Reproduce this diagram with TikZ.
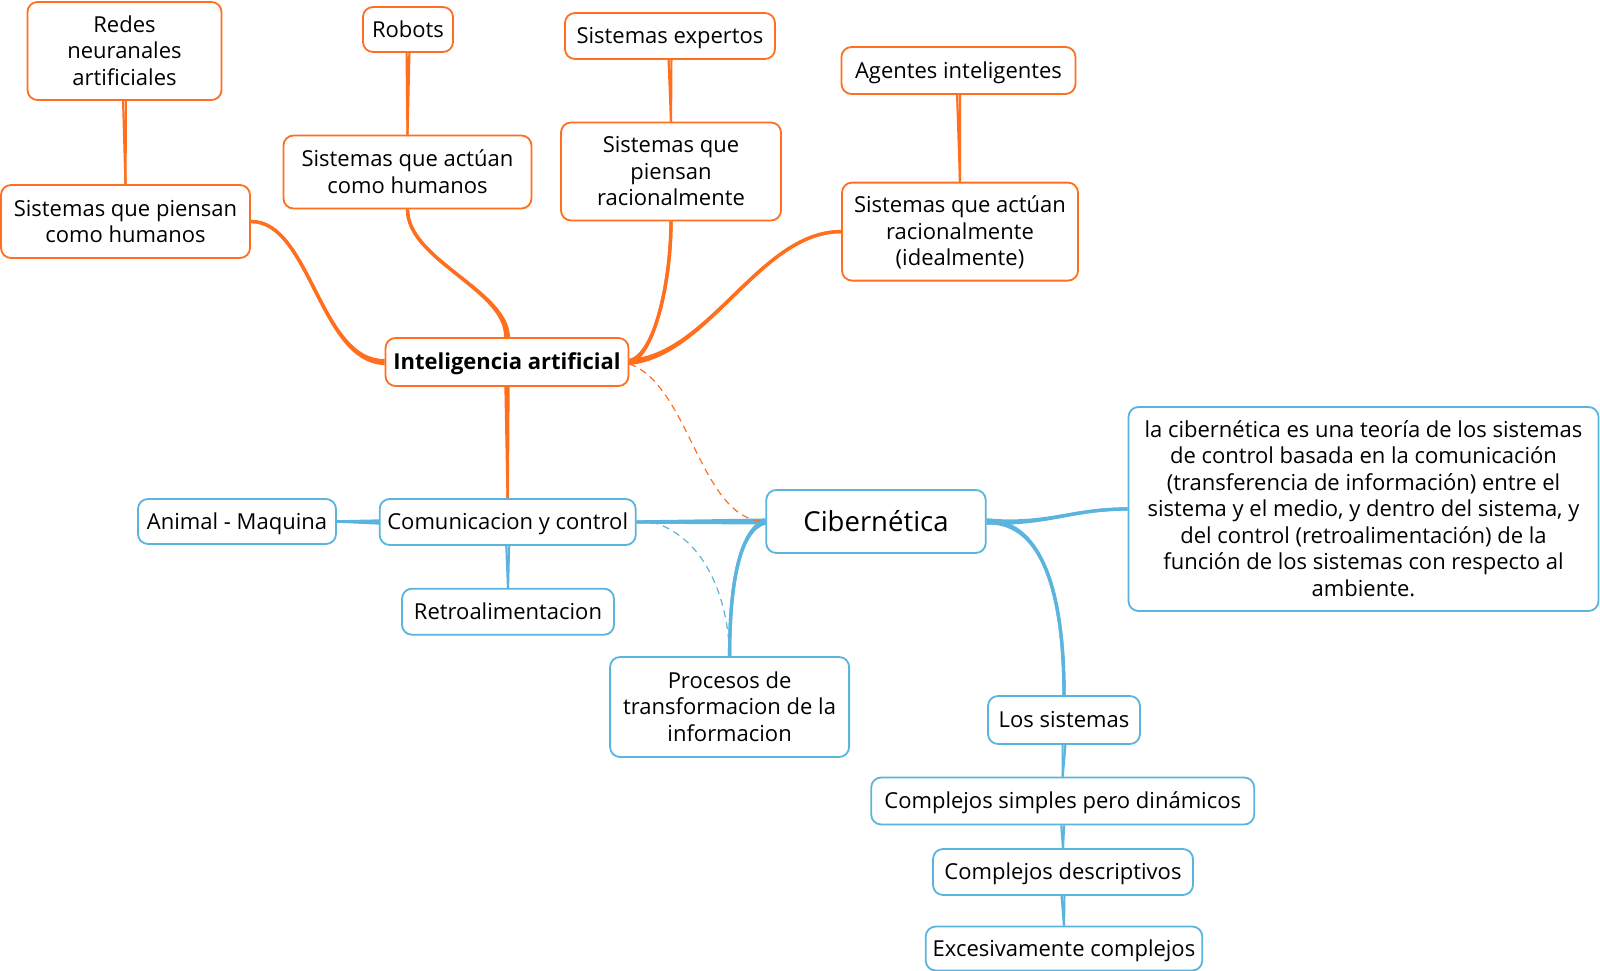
\documentclass[tikz,border=0pt]{standalone}
\usepackage{fontspec}
\setmainfont{Open Sans}
\definecolor{org}{HTML}{FF6F1E}
\definecolor{blu}{HTML}{5AB4DE}
\pgfdeclarelayer{bg}
\pgfsetlayers{bg,main}
\tikzset{
  box/.style={draw, rounded corners=10pt, line width=1.8pt, fill=white, align=center, inner sep=0pt, text=black,
    font=\fontsize{22}{26.5}\selectfont, text height=15.7pt, text depth=0pt},
  two/.style={text height=42.2pt},
  three/.style={text height=68.7pt},
  seven/.style={text height=174.7pt},
  obox/.style={box, draw=org},
  bbox/.style={box, draw=blu},
  oedge/.style={draw=org, line width=3.3pt},
  bedge/.style={draw=blu, line width=3.3pt},
}
\begin{document}
\begin{tikzpicture}[x=1pt,y=-1pt]
\useasboundingbox (0,0) rectangle (1600,971);
% orange nodes
\node[obox, three, minimum width=194pt, minimum height=98pt] (rna) at (124.5,51) {Redes\\neuranales\\artificiales};
\node[obox, minimum width=90pt, minimum height=45pt] (rob) at (408,29.5) {Robots};
\node[obox, minimum width=210pt, minimum height=46pt] (exp) at (670,36) {Sistemas expertos};
\node[obox, minimum width=234pt, minimum height=47pt] (age) at (958.5,70.5) {Agentes inteligentes};
\node[obox, two, minimum width=249pt, minimum height=73pt] (sph) at (125.5,221.5) {Sistemas que piensan\\como humanos};
\node[obox, two, minimum width=248pt, minimum height=73pt] (sah) at (407.5,172) {Sistemas que actúan\\como humanos};
\node[obox, three, minimum width=220pt, minimum height=98pt] (spr) at (671,171.5) {Sistemas que\\piensan\\racionalmente};
\node[obox, three, minimum width=236pt, minimum height=98pt] (sar) at (960,231.6) {Sistemas que actúan\\racionalmente\\(idealmente)};
\node[obox, minimum width=243pt, minimum height=48pt, font=\fontsize{22}{26.5}\selectfont\bfseries] (ia) at (507,362) {Inteligencia artificial};
% blue nodes
\node[bbox, minimum width=198pt, minimum height=45pt] (ani) at (237,521.5) {Animal - Maquina};
\node[bbox, minimum width=256pt, minimum height=46pt] (com) at (507.7,522) {Comunicacion y control};
\node[bbox, minimum width=212pt, minimum height=46pt] (ret) at (508,611.7) {Retroalimentacion};
\node[bbox, three, minimum width=239pt, minimum height=100pt] (pro) at (729.6,707) {Procesos de\\transformacion de la\\informacion};
\node[bbox, minimum width=219.5pt, minimum height=63pt, font=\fontsize{27.5}{32}\selectfont, text height=19.6pt] (cib) at (876,521.5) {Cibernética};
\node[bbox, seven, minimum width=470pt, minimum height=204pt] (def) at (1363.5,509) {la cibernética es una teoría de los sistemas\\de control basada en la comunicación\\(transferencia de información) entre el\\sistema y el medio, y dentro del sistema, y\\del control (retroalimentación) de la\\función de los sistemas con respecto al\\ambiente.};
\node[bbox, minimum width=152pt, minimum height=48pt] (los) at (1064,720) {Los sistemas};
\node[bbox, minimum width=383pt, minimum height=47pt] (csp) at (1062.7,801) {Complejos simples pero dinámicos};
\node[bbox, minimum width=260pt, minimum height=46pt] (cde) at (1063,872) {Complejos descriptivos};
\node[bbox, minimum width=276.5pt, minimum height=44pt] (exc) at (1064,948.5) {Excesivamente complejos};
% edges
\begin{pgfonlayer}{bg}
\foreach \o in {-1.4,1.4}{
  \draw[oedge] ([yshift=\o]ia.west) .. controls (320,362) and (310,221) .. (sph.east);
  \draw[oedge] ([xshift=\o]ia.north) .. controls (507,290) and (407.5,260) .. (sah.south);
  \draw[oedge] ([yshift=\o]ia.east) .. controls (655,355) and (671,280) .. (spr.south);
  \draw[oedge] ([yshift=\o]ia.east) .. controls (710,355) and (760,231.6) .. (sar.west);
  \draw[oedge, line width=2.2pt] ([xshift=\o]rna.south) -- (sph.north);
  \draw[oedge, line width=2.2pt] ([xshift=\o]rob.south) -- (sah.north);
  \draw[oedge, line width=2.2pt] ([xshift=\o]exp.south) -- (spr.north);
  \draw[oedge, line width=2.2pt] ([xshift=\o]age.south) -- (sar.north);
  \draw[oedge, line width=2.5pt] ([xshift=\o]ia.south) -- (com.north);
  \draw[bedge] ([yshift=\o]cib.west) -- (com.east);
  \draw[bedge, line width=2.5pt] ([yshift=\o]com.west) -- (ani.east);
  \draw[bedge, line width=2.2pt] ([xshift=\o]com.south) -- (ret.north);
  \draw[bedge] ([yshift=\o]cib.west) .. controls (738,530) and (729.6,590) .. (pro.north);
  \draw[bedge] ([yshift=\o]cib.east) .. controls (1050,525) and (1070,509) .. (def.west);
  \draw[bedge] ([yshift=\o]cib.east) .. controls (1045,521) and (1064,600) .. (los.north);
  \draw[bedge, line width=2.2pt] ([xshift=\o]los.south) -- (csp.north);
  \draw[bedge, line width=2.2pt] ([xshift=\o]csp.south) -- (cde.north);
  \draw[bedge, line width=2.2pt] ([xshift=\o]cde.south) -- (exc.north);
}
\draw[org, line width=1.2pt, dash pattern=on 7pt off 5pt] ([yshift=-2]ia.east) .. controls (690,385) and (700,521) .. (cib.west);
\draw[blu, line width=1.2pt, dash pattern=on 7pt off 5pt] ([xshift=15pt]com.east) .. controls (700,535) and (728,590) .. (pro.north);
\end{pgfonlayer}
\end{tikzpicture}
\end{document}
